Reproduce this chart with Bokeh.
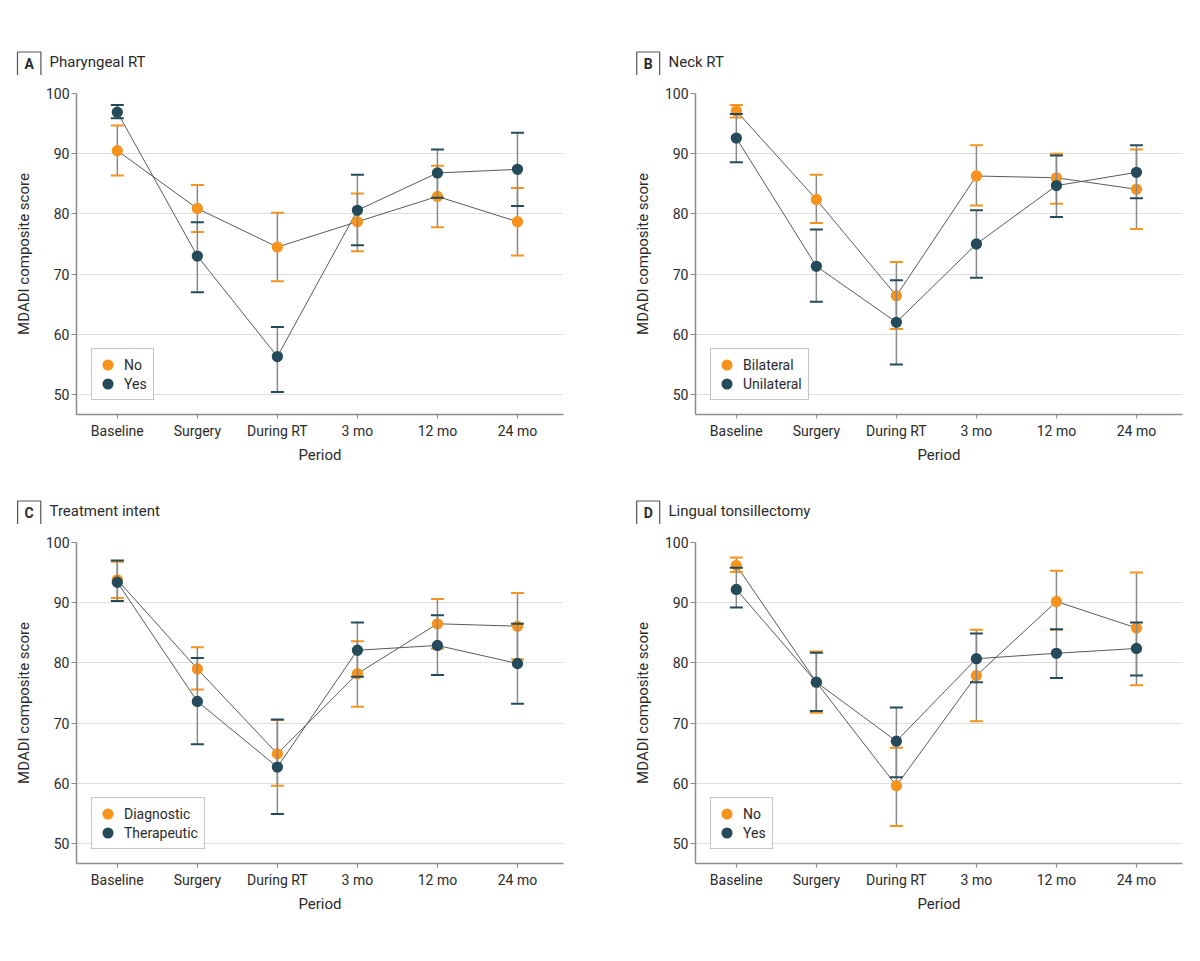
from bokeh.plotting import figure
from bokeh.models import Range1d, FixedTicker, Label, Legend, LegendItem
from bokeh.layouts import row, column
from bokeh.embed import file_html
from bokeh.resources import INLINE

periods = ["Baseline", "Surgery", "During RT", "3 mo", "12 mo", "24 mo"]
y_ticks = [50, 60, 70, 80, 90, 100]

panel_letters = ["A", "B", "C", "D"]
panel_titles = ["Pharyngeal RT", "Neck RT", "Treatment intent", "Lingual tonsillectomy"]
group1_names = ["No", "Bilateral", "Diagnostic", "No"]
group2_names = ["Yes", "Unilateral", "Therapeutic", "Yes"]

# Panel A: Pharyngeal RT
a_g1_mean = [90.5, 80.9, 74.5, 78.7, 82.9, 78.7]
a_g1_low = [86.4, 77.0, 68.8, 73.8, 77.8, 73.1]
a_g1_high = [94.7, 84.8, 80.2, 83.4, 88.0, 84.3]
a_g2_mean = [96.9, 73.0, 56.3, 80.6, 86.8, 87.4]
a_g2_low = [95.9, 67.0, 50.4, 74.8, 82.7, 81.3]
a_g2_high = [98.1, 78.6, 61.2, 86.5, 90.7, 93.5]

# Panel B: Neck RT
b_g1_mean = [97.1, 82.4, 66.4, 86.3, 86.0, 84.1]
b_g1_low = [96.0, 78.5, 60.9, 81.4, 81.7, 77.5]
b_g1_high = [98.1, 86.5, 72.0, 91.4, 90.0, 90.7]
b_g2_mean = [92.6, 71.3, 62.0, 75.0, 84.7, 86.9]
b_g2_low = [88.6, 65.4, 55.0, 69.4, 79.5, 82.6]
b_g2_high = [96.6, 77.4, 69.0, 80.6, 89.7, 91.4]

# Panel C: Treatment intent
c_g1_mean = [93.8, 79.0, 64.9, 78.2, 86.5, 86.1]
c_g1_low = [90.8, 75.6, 59.6, 72.7, 82.4, 80.6]
c_g1_high = [96.8, 82.6, 70.5, 83.6, 90.6, 91.6]
c_g2_mean = [93.4, 73.6, 62.7, 82.1, 82.9, 79.9]
c_g2_low = [90.3, 66.5, 54.9, 77.7, 78.0, 73.2]
c_g2_high = [97.0, 80.8, 70.6, 86.7, 87.9, 86.5]

# Panel D: Lingual tonsillectomy
d_g1_mean = [96.2, 76.8, 59.6, 77.9, 90.2, 85.8]
d_g1_low = [95.1, 71.7, 52.9, 70.3, 85.5, 76.3]
d_g1_high = [97.5, 81.9, 65.9, 85.5, 95.3, 95.0]
d_g2_mean = [92.2, 76.8, 67.0, 80.7, 81.6, 82.4]
d_g2_low = [89.2, 72.0, 61.0, 76.8, 77.5, 77.9]
d_g2_high = [95.8, 81.7, 72.6, 84.9, 85.6, 86.7]

ORANGE = "#F7941D"
TEAL = "#254B5A"
FONT = "Roboto"
TEXT = "#2b2b2b"
AXIS = "#8c8c8c"

panel_data = [
    (a_g1_mean, a_g1_low, a_g1_high, a_g2_mean, a_g2_low, a_g2_high),
    (b_g1_mean, b_g1_low, b_g1_high, b_g2_mean, b_g2_low, b_g2_high),
    (c_g1_mean, c_g1_low, c_g1_high, c_g2_mean, c_g2_low, c_g2_high),
    (d_g1_mean, d_g1_low, d_g1_high, d_g2_mean, d_g2_low, d_g2_high),
]

FRAME_W = 487
FRAME_H = 321


def make_title(i, width, height, centre_from_top):
    t = figure(width=width, height=height, output_backend="svg", toolbar_location=None,
               x_range=Range1d(0, 1), y_range=Range1d(0, 1),
               x_axis_location=None, y_axis_location=None, min_border=0,
               background_fill_color="white", border_fill_color="white")
    t.outline_line_color = None
    t.grid.visible = False
    t.add_layout(Label(x=28.7, y=height - centre_from_top - 1.8, x_units="screen",
                       y_units="screen",
                       text=panel_letters[i], text_font=FONT, text_font_size="14px",
                       text_font_style="bold", text_color=TEXT, text_align="center",
                       text_baseline="middle", border_line_color="#555555",
                       border_line_width=1.2, padding=(7, 4)))
    t.add_layout(Label(x=49, y=height - centre_from_top, x_units="screen", y_units="screen",
                       text=panel_titles[i], text_font=FONT, text_font_size="15px",
                       text_color=TEXT, text_align="left", text_baseline="middle"))
    return t


def make_panel(i, width, height, left, top, bottom):
    g1m, g1l, g1h, g2m, g2l, g2h = panel_data[i]
    xs = list(range(len(periods)))
    p = figure(width=width, height=height, output_backend="svg", toolbar_location=None,
               x_range=Range1d(-0.51, 5.575), y_range=Range1d(46.68, 100),
               min_border_left=left, min_border_right=width - left - FRAME_W,
               min_border_top=top, min_border_bottom=bottom,
               background_fill_color="white", border_fill_color="white")
    p.outline_line_color = None
    p.xgrid.grid_line_color = None
    p.ygrid.grid_line_color = "#dedede"
    p.ygrid.grid_line_width = 1.2
    p.xaxis.ticker = FixedTicker(ticks=xs)
    p.xaxis.major_label_overrides = {k: v for k, v in zip(xs, periods)}
    p.yaxis.ticker = FixedTicker(ticks=y_ticks)
    p.ygrid.ticker = FixedTicker(ticks=y_ticks)
    for ax in (p.xaxis, p.yaxis):
        ax.axis_line_color = AXIS
        ax.axis_line_width = 1.5
        ax.major_tick_line_color = AXIS
        ax.major_tick_line_width = 1.2
        ax.minor_tick_line_color = None
        ax.major_tick_in = 0
        ax.major_label_text_font = FONT
        ax.major_label_text_font_size = "14px"
        ax.major_label_text_color = TEXT
        ax.axis_label_text_font = FONT
        ax.axis_label_text_font_size = "15px"
        ax.axis_label_text_font_style = "normal"
        ax.axis_label_text_color = TEXT
    p.xaxis.major_tick_out = 4
    p.xaxis.major_label_standoff = 4
    p.xaxis.axis_label = "Period"
    p.xaxis.axis_label_standoff = 4
    p.yaxis.major_tick_out = 5
    p.yaxis.major_label_standoff = 2
    p.yaxis.axis_label = "MDADI composite score"
    p.yaxis.axis_label_standoff = 10

    p.line(xs, g1m, line_color="#5a5a5a", line_width=1)
    p.line(xs, g2m, line_color="#5a5a5a", line_width=1)

    renderers = []
    for m, lo, hi, col in ((g1m, g1l, g1h, ORANGE), (g2m, g2l, g2h, TEAL)):
        p.segment(x0=xs, y0=lo, x1=xs, y1=hi, line_color="#8a8a8a", line_width=1.5)
        p.scatter(xs, lo, marker="dash", size=13, line_color=col, line_width=2)
        p.scatter(xs, hi, marker="dash", size=13, line_color=col, line_width=2)
        r = p.scatter(xs, m, marker="circle", size=7.8, fill_color=col, line_color=col,
                      line_width=3.5)
        renderers.append(r)

    legend = Legend(items=[LegendItem(label=group1_names[i], renderers=[renderers[0]]),
                           LegendItem(label=group2_names[i], renderers=[renderers[1]])],
                    location=(15, 14), orientation="vertical",
                    glyph_width=19, glyph_height=19, spacing=0, padding=6,
                    label_standoff=7, margin=0, label_height=19,
                    label_text_font=FONT, label_text_font_size="14px",
                    label_text_color=TEXT,
                    border_line_color="#8a8a8a", border_line_width=1.2,
                    background_fill_color="white", background_fill_alpha=1)
    p.add_layout(legend, "center")
    return p


tA = make_title(0, 619, 75, 61.7)
tB = make_title(1, 581, 75, 61.7)
pA = make_panel(0, 619, 400, 76, 18, 61)
pB = make_panel(1, 581, 400, 76, 18, 61)
tC = make_title(2, 619, 49, 35.7)
tD = make_title(3, 581, 49, 35.7)
pC = make_panel(2, 619, 400, 76, 18, 61)
pD = make_panel(3, 581, 400, 76, 18, 61)

layout = column(row(tA, tB), row(pA, pB), row(tC, tD), row(pC, pD))
open("out.html", "w").write(file_html(layout, INLINE))
